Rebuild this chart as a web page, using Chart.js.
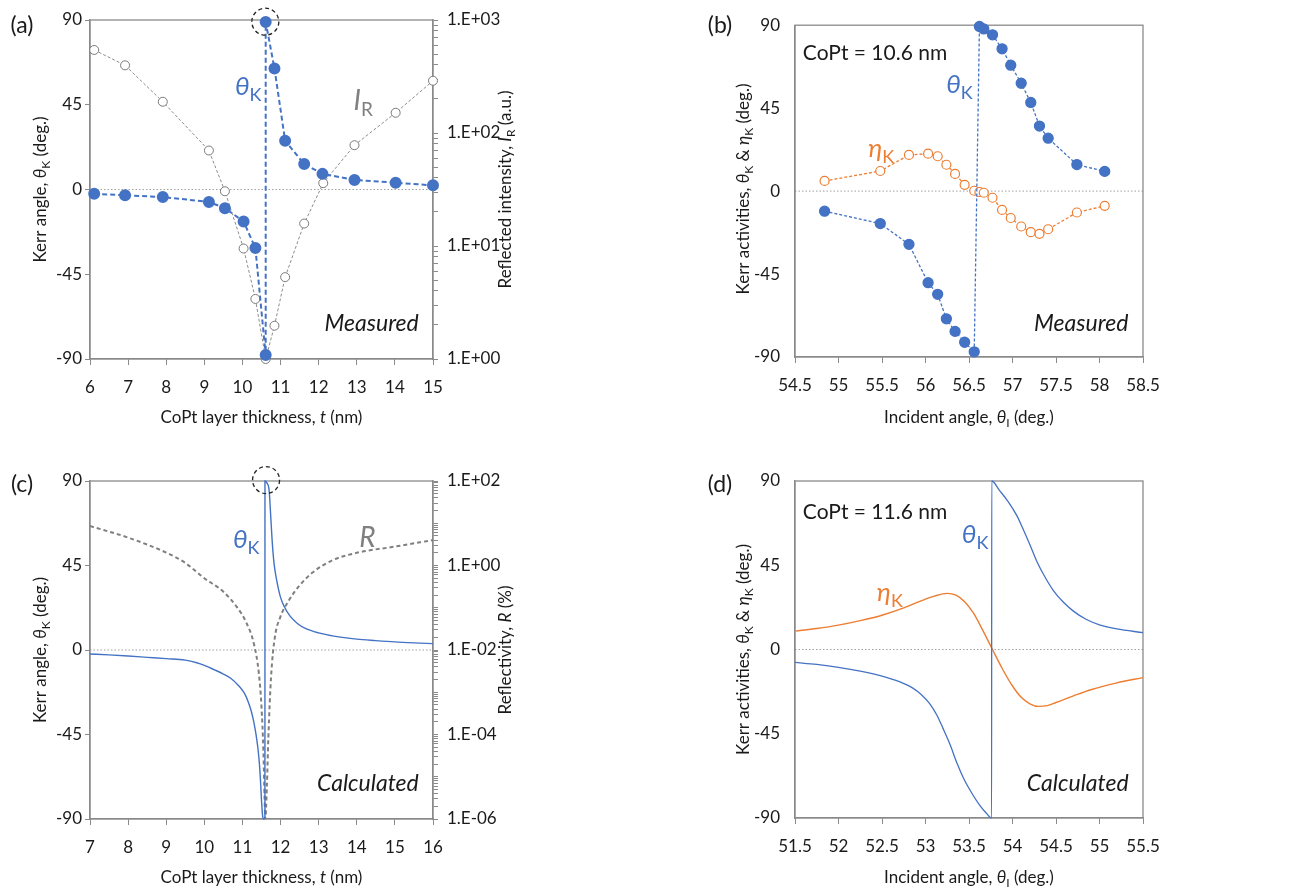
<!DOCTYPE html>
<html lang="en">
<head>
<meta charset="UTF-8" />
<title>Kerr angle vs CoPt thickness and incident angle</title>
<script src="https://cdn.jsdelivr.net/npm/chart.js"></script>
<style>
  body { margin: 0; background: #fff; }
  #wrap { position: relative; width: 1291px; height: 890px; }
  .panel { position: absolute; }
</style>
</head>
<body>
<div id="wrap">
  <div class="panel" style="left:0;top:0"><canvas id="chartA" width="540" height="440"></canvas></div>
  <div class="panel" style="left:650px;top:0"><canvas id="chartB" width="641" height="440"></canvas></div>
  <div class="panel" style="left:0;top:440px"><canvas id="chartC" width="540" height="450"></canvas></div>
  <div class="panel" style="left:650px;top:440px"><canvas id="chartD" width="641" height="450"></canvas></div>
</div>

<script>
// (a) measured, vs CoPt thickness
const thickA = [6.11, 6.92, 7.91, 9.12, 9.54, 10.03, 10.34, 10.61, 10.61, 10.84, 11.12, 11.62, 12.10, 12.94, 14.02, 15.00];
const kerrA = [-2.3, -3.1, -4.0, -6.6, -9.9, -17.0, -31.1, -87.9, 89.0, 64.3, 25.9, 13.5, 8.3, 5.1, 3.6, 2.2];
const thickIA = [6.11, 6.92, 7.91, 9.12, 9.54, 10.03, 10.34, 10.61, 10.84, 11.12, 11.62, 12.12, 12.94, 14.02, 15.00];
const intensityA = [543, 397, 189, 70, 30.5, 9.5, 3.4, 1.0, 1.97, 5.3, 15.8, 36, 78, 151, 290];

// (b) measured, vs incident angle (CoPt = 10.6 nm)
const angleB = [54.84, 55.48, 55.81, 56.03, 56.14, 56.24, 56.34, 56.45, 56.56, 56.62, 56.67, 56.77, 56.88, 56.98, 57.10, 57.21, 57.31, 57.41, 57.74, 58.06];
const kerrB = [-10.9, -17.6, -28.9, -49.7, -56.0, -69.3, -76.1, -82.0, -87.2, 89.3, 88.0, 84.8, 77.2, 68.3, 58.5, 48.1, 35.3, 28.7, 14.4, 10.7];
const ellipB = [5.5, 10.9, 19.6, 20.3, 18.9, 14.3, 9.3, 3.4, 0.2, -0.5, -0.9, -3.6, -10.2, -14.6, -19.2, -22.3, -23.2, -20.7, -11.6, -8.0];

// (c) calculated, vs CoPt thickness
const thickC = [7, 7.5, 8, 8.5, 9, 9.5, 9.8, 10.0, 10.25, 10.5, 10.7, 10.9, 11.05, 11.15, 11.23, 11.3, 11.36, 11.41, 11.45, 11.48, 11.5, 11.53, 11.56, 11.59, 11.591, 11.64, 11.7, 11.74, 11.78, 11.83, 11.9, 12.0, 12.1, 12.25, 12.45, 12.65, 13.0, 13.4, 14, 14.5, 15, 15.5, 16];
const kerrC = [-2.1, -2.6, -3.2, -3.9, -4.6, -5.4, -6.8, -8.2, -10.4, -12.8, -15.2, -19.0, -23.0, -27.5, -32.5, -38.5, -45.5, -53.0, -62.0, -72.0, -80.0, -88.5, -90, -89.5, 90, 89, 85, 72, 58, 46, 37, 28, 23, 18, 14, 11.5, 9.1, 7.4, 5.8, 5.0, 4.3, 3.8, 3.4];
const thickRC = [7, 8, 9, 9.5, 10, 10.5, 10.85, 11.1, 11.3, 11.43, 11.5, 11.55, 11.58, 11.6, 11.64, 11.68, 11.75, 11.85, 11.99, 12.21, 12.49, 12.84, 13.33, 14, 15, 16];
const reflC = [8.6, 4.57, 2.02, 1.15, 0.5, 0.24, 0.105, 0.0447, 0.0141, 0.00282, 4.5e-4, 4e-5, 3.2e-6, 1.0e-6, 5.6e-6, 8.5e-5, 2.24e-3, 0.02, 0.059, 0.145, 0.33, 0.68, 1.29, 2.0, 2.8, 4.0];

// (d) calculated, vs incident angle (CoPt = 11.6 nm)
const angleDk = [51.5, 51.75, 52.0, 52.25, 52.5, 52.7, 52.85, 52.95, 53.05, 53.13, 53.2, 53.28, 53.36, 53.44, 53.53, 53.62, 53.7, 53.76, 53.761, 53.85, 53.95, 54.05, 54.12, 54.2, 54.28, 54.37, 54.47, 54.58, 54.7, 54.85, 55.0, 55.2, 55.5];
const kerrD = [-6.9, -8.0, -9.5, -11.5, -14.2, -17.2, -20.5, -24.0, -29.0, -35.0, -42.0, -50.5, -60.5, -69.0, -76.5, -83.0, -87.5, -90, 90, 85, 79, 71.5, 64.5, 56, 47, 39, 31.5, 25.5, 20.5, 16, 13.2, 11, 9.0];
const angleDe = [51.5, 51.75, 52.0, 52.25, 52.5, 52.75, 52.95, 53.1, 53.25, 53.35, 53.45, 53.55, 53.65, 53.77, 53.88, 54.0, 54.1, 54.2, 54.3, 54.4, 54.5, 54.7, 54.9, 55.2, 55.5];
const ellipD = [9.8, 11.2, 13.0, 15.4, 18.3, 22.2, 26.0, 28.5, 30.0, 29.0, 25.5, 19.5, 11.0, 0, -10.0, -19.5, -25.5, -29.0, -30.4, -30.0, -28.3, -24.8, -21.5, -17.8, -15.0];

// log axis tick labels
const intensityTickValues = [1, 10, 100, 1000];
const intensityTickLabels = ['1.E+00', '1.E+01', '1.E+02', '1.E+03'];
const reflTickValues = [1e-6, 1e-4, 1e-2, 1, 100];
const reflTickLabels = ['1.E-06', '1.E-04', '1.E-02', '1.E+00', '1.E+02'];

const FONT = 'Lato, "Open Sans", sans-serif';
const BLUE = '#4472c4';
const ORANGE = '#ed7d31';
const GRAY = '#808080';
const AXIS = '#8a8a8a';
const TXT = '#1a1a1a';

function pts(xs, ys) {
  return xs.map((x, i) => ({ x: x, y: ys[i] }));
}

// minor ticks for a log axis, one per 1..9 of every decade
function logTicks(lo, hi) {
  const out = [];
  for (let e = lo; e < hi; e++) {
    for (let m = 1; m < 10; m++) out.push({ value: m * Math.pow(10, e) });
  }
  out.push({ value: Math.pow(10, hi) });
  return out;
}

// text with italic / subscript pieces
function rich(ctx, parts, x, y, size, color, rotate) {
  ctx.save();
  ctx.translate(x, y);
  if (rotate) ctx.rotate(-Math.PI / 2);
  ctx.fillStyle = color;
  ctx.textBaseline = 'alphabetic';
  const fonts = parts.map(p => {
    const s = p[1] || '';
    const sz = s.includes('s') ? Math.round(size * 0.68) : size;
    return (s.includes('i') ? 'italic ' : '') + sz + 'px ' + FONT;
  });
  let w = 0;
  parts.forEach((p, i) => { ctx.font = fonts[i]; w += ctx.measureText(p[0]).width; });
  let cx = -w / 2;
  const base = size * 0.36;
  parts.forEach((p, i) => {
    ctx.font = fonts[i];
    const dy = (p[1] || '').includes('s') ? size * 0.22 : 0;
    ctx.fillText(p[0], cx, base + dy);
    cx += ctx.measureText(p[0]).width;
  });
  ctx.restore();
}

function panelPlugin(p) {
  return {
    id: 'panel',
    beforeDatasetsDraw(chart) {
      const { ctx, chartArea: a, scales } = chart;
      const y0 = scales.y.getPixelForValue(0);
      ctx.save();
      ctx.strokeStyle = '#a0a0a0';
      ctx.lineWidth = 1;
      ctx.setLineDash([1.5, 2]);
      ctx.beginPath();
      ctx.moveTo(a.left, y0);
      ctx.lineTo(a.right, y0);
      ctx.stroke();
      ctx.setLineDash([]);
      ctx.strokeStyle = AXIS;
      ctx.lineWidth = 1.3;
      ctx.strokeRect(a.left, a.top, a.right - a.left, a.bottom - a.top);
      ctx.restore();
    },
    afterDraw(chart) {
      const { ctx, scales } = chart;
      rich(ctx, [[p.letter]], p.letterPos[0], p.letterPos[1], 23, TXT);
      p.titles.forEach(t => rich(ctx, t.parts, t.x, t.y, 17, TXT, t.rotate));
      p.notes.forEach(n => {
        rich(ctx, n.parts, scales.x.getPixelForValue(n.x), scales.y.getPixelForValue(n.y), n.size, n.color);
      });
      (p.circles || []).forEach(c => {
        ctx.save();
        ctx.strokeStyle = '#222';
        ctx.lineWidth = 1.3;
        ctx.setLineDash([4, 3]);
        ctx.beginPath();
        ctx.arc(scales.x.getPixelForValue(c.x), scales.y.getPixelForValue(c.y), c.r, 0, Math.PI * 2);
        ctx.stroke();
        ctx.restore();
      });
    }
  };
}

const axisFont = { family: FONT, size: 17 };

function makePanel(id, p) {
  const scales = {
    x: {
      type: 'linear',
      min: p.xMin,
      max: p.xMax,
      ticks: {
        stepSize: p.xStep, font: axisFont, color: TXT, padding: 12, maxRotation: 0, autoSkip: false,
        callback: v => String(Number(v.toFixed(2)))
      },
      grid: { drawOnChartArea: false, color: AXIS, tickLength: 6, tickColor: AXIS },
      border: { color: AXIS, width: 1.3 },
      afterFit: s => { s.height = p.xh; }
    },
    y: {
      type: 'linear',
      min: -90,
      max: 90,
      ticks: { stepSize: 45, font: axisFont, color: TXT, padding: p.yPad },
      grid: { drawOnChartArea: false, drawTicks: p.yTicks, tickLength: 5, color: AXIS, tickColor: AXIS },
      border: { color: AXIS, width: 1.3 },
      afterFit: s => { s.width = p.yw; }
    }
  };
  if (p.log) {
    scales.y2 = {
      type: 'logarithmic',
      position: 'right',
      min: p.log.min,
      max: p.log.max,
      afterBuildTicks: s => { s.ticks = logTicks(p.log.lo, p.log.hi); },
      ticks: {
        autoSkip: false,
        font: axisFont,
        color: TXT,
        padding: 9,
        callback: v => {
          const i = p.log.values.findIndex(t => Math.abs(v / t - 1) < 1e-6);
          return i >= 0 ? p.log.labels[i] : '';
        }
      },
      grid: { drawOnChartArea: false, tickLength: 5, color: AXIS, tickColor: AXIS },
      border: { color: AXIS, width: 1.3 },
      afterFit: s => { s.width = p.log.width; }
    };
  }
  new Chart(document.getElementById(id), {
    type: 'scatter',
    data: { datasets: p.datasets },
    options: {
      responsive: false,
      animation: false,
      events: [],
      layout: { padding: { top: p.top, right: p.right || 0, left: 0, bottom: 0 } },
      plugins: { legend: { display: false }, tooltip: { enabled: false } },
      scales: scales
    },
    plugins: [panelPlugin(p)]
  });
}

const kLabel = (g) => [[g, 'i'], ['K', 's']];

// (a)
makePanel('chartA', {
  xMin: 6, xMax: 15, xStep: 1, xh: 81, yw: 90, yPad: 3, yTicks: true, top: 20,
  log: { min: 1, max: 1000, lo: 0, hi: 3, width: 107, values: intensityTickValues, labels: intensityTickLabels },
  datasets: [
    {
      data: pts(thickA, kerrA), showLine: true, borderColor: BLUE, borderWidth: 2, borderDash: [5, 3],
      pointRadius: 5, pointBackgroundColor: BLUE, pointBorderColor: BLUE, clip: false, yAxisID: 'y'
    },
    {
      data: pts(thickIA, intensityA), showLine: true, borderColor: '#8c8c8c', borderWidth: 1, borderDash: [3, 2],
      pointRadius: 4.5, pointBackgroundColor: '#fff', pointBorderColor: '#7a7a7a', pointBorderWidth: 1, clip: false, yAxisID: 'y2'
    }
  ],
  letter: '(a)', letterPos: [22, 25],
  titles: [
    { parts: [['Kerr angle, '], ['θ', 'i'], ['K', 's'], [' (deg.)']], x: 40, y: 189.5, rotate: true },
    { parts: [['Reflected intensity, '], ['I', 'i'], ['R', 's'], [' (a.u.)']], x: 505, y: 189.5, rotate: true },
    { parts: [['CoPt layer thickness, '], ['t', 'i'], [' (nm)']], x: 261.5, y: 417 }
  ],
  notes: [
    { parts: kLabel('θ'), x: 10.15, y: 55, size: 26, color: BLUE },
    { parts: [['I', 'i'], ['R', 's']], x: 13.17, y: 47.5, size: 28, color: GRAY },
    { parts: [['Measured', 'i']], x: 13.39, y: -70.7, size: 23, color: TXT }
  ],
  circles: [{ x: 10.6, y: 89.1, r: 13.5 }]
});

// (b)
makePanel('chartB', {
  xMin: 54.5, xMax: 58.5, xStep: 0.5, xh: 83, yw: 145, yPad: 15, yTicks: false, top: 21, right: 148,
  datasets: [
    {
      data: pts(angleB, kerrB), showLine: true, borderColor: BLUE, borderWidth: 1.3, borderDash: [3, 2],
      pointRadius: 5, pointBackgroundColor: BLUE, pointBorderColor: BLUE, clip: false
    },
    {
      data: pts(angleB, ellipB), showLine: true, borderColor: ORANGE, borderWidth: 1.3, borderDash: [3, 2],
      pointRadius: 4.5, pointBackgroundColor: '#fff', pointBorderColor: ORANGE, pointBorderWidth: 1.2, clip: false
    }
  ],
  letter: '(b)', letterPos: [70, 25],
  titles: [
    { parts: [['Kerr activities, '], ['θ', 'i'], ['K', 's'], [' & '], ['η', 'i'], ['K', 's'], [' (deg.)']], x: 93, y: 189, rotate: true },
    { parts: [['Incident angle, '], ['θ', 'i'], ['I', 's'], [' (deg.)']], x: 319, y: 417 }
  ],
  notes: [
    { parts: [['CoPt = 10.6 nm']], x: 55.42, y: 75.2, size: 21, color: TXT },
    { parts: kLabel('θ'), x: 56.39, y: 58.3, size: 26, color: BLUE },
    { parts: kLabel('η'), x: 55.49, y: 23.5, size: 26, color: ORANGE },
    { parts: [['Measured', 'i']], x: 57.79, y: -71.5, size: 23, color: TXT }
  ]
});

// (c)
makePanel('chartC', {
  xMin: 7, xMax: 16, xStep: 1, xh: 71, yw: 90, yPad: 3, yTicks: true, top: 41,
  log: { min: 1e-6, max: 100, lo: -6, hi: 2, width: 107, values: reflTickValues, labels: reflTickLabels },
  datasets: [
    {
      data: pts(thickC, kerrC), showLine: true, borderColor: BLUE, borderWidth: 1.4, pointRadius: 0,
      cubicInterpolationMode: 'monotone', clip: false, yAxisID: 'y'
    },
    {
      data: pts(thickRC, reflC), showLine: true, borderColor: '#7f7f7f', borderWidth: 2, borderDash: [4, 3], pointRadius: 0,
      cubicInterpolationMode: 'monotone', yAxisID: 'y2'
    }
  ],
  letter: '(c)', letterPos: [22, 44],
  titles: [
    { parts: [['Kerr angle, '], ['θ', 'i'], ['K', 's'], [' (deg.)']], x: 40, y: 210, rotate: true },
    { parts: [['Reflectivity, '], ['R', 'i'], [' (%)']], x: 505, y: 210, rotate: true },
    { parts: [['CoPt layer thickness, '], ['t', 'i'], [' (nm)']], x: 261.5, y: 437 }
  ],
  notes: [
    { parts: kLabel('θ'), x: 11.1, y: 59.3, size: 26, color: BLUE },
    { parts: [['R', 'i']], x: 14.28, y: 60.2, size: 28, color: GRAY },
    { parts: [['Calculated', 'i']], x: 14.29, y: -70.7, size: 23, color: TXT }
  ],
  circles: [{ x: 11.62, y: 90.5, r: 13.5 }]
});

// (d)
makePanel('chartD', {
  xMin: 51.5, xMax: 55.5, xStep: 0.5, xh: 72, yw: 145, yPad: 15, yTicks: false, top: 41, right: 148,
  datasets: [
    {
      data: pts(angleDk, kerrD), showLine: true, borderColor: BLUE, borderWidth: 1.3, pointRadius: 0,
      cubicInterpolationMode: 'monotone', clip: false
    },
    {
      data: pts(angleDe, ellipD), showLine: true, borderColor: ORANGE, borderWidth: 1.4, pointRadius: 0,
      cubicInterpolationMode: 'monotone', clip: false
    }
  ],
  letter: '(d)', letterPos: [70, 44],
  titles: [
    { parts: [['Kerr activities, '], ['θ', 'i'], ['K', 's'], [' & '], ['η', 'i'], ['K', 's'], [' (deg.)']], x: 93, y: 209.5, rotate: true },
    { parts: [['Incident angle, '], ['θ', 'i'], ['I', 's'], [' (deg.)']], x: 319, y: 437 }
  ],
  notes: [
    { parts: [['CoPt = 11.6 nm']], x: 52.42, y: 74, size: 21, color: TXT },
    { parts: kLabel('θ'), x: 53.57, y: 61.9, size: 26, color: BLUE },
    { parts: kLabel('η'), x: 52.59, y: 30.7, size: 26, color: ORANGE },
    { parts: [['Calculated', 'i']], x: 54.75, y: -71, size: 23, color: TXT }
  ]
});
</script>
</body>
</html>
